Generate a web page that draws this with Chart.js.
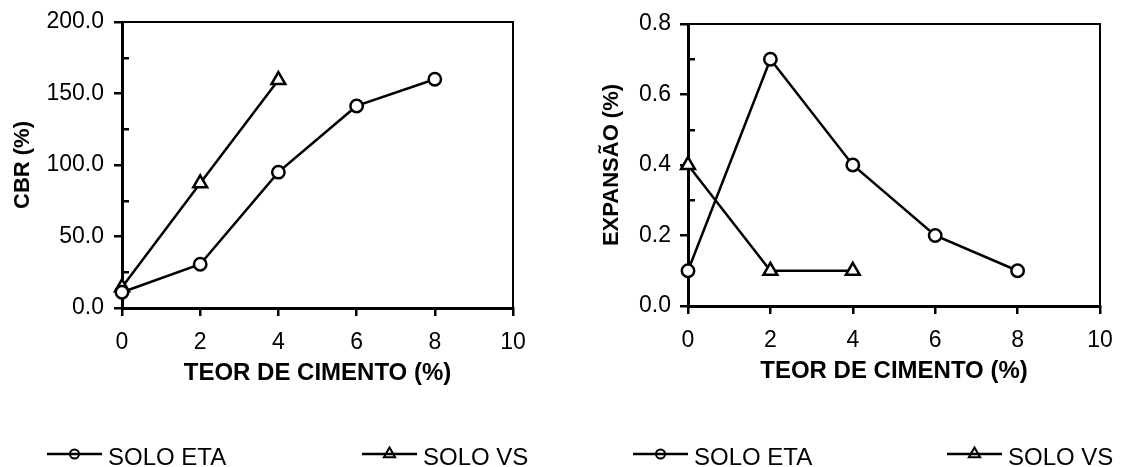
<!DOCTYPE html>
<html>
<head>
<meta charset="utf-8">
<script src="https://cdn.jsdelivr.net/npm/chart.js@4.4.0/dist/chart.umd.min.js"></script>
<style>
  html, body { margin: 0; padding: 0; background: #fff; }
  #wrap { position: relative; width: 1124px; height: 467px; }
  canvas { position: absolute; top: 0; }
</style>
</head>
<body>
<div id="wrap">
  <canvas id="cbrChart" width="562" height="467" style="left:0"></canvas>
  <canvas id="expChart" width="562" height="467" style="left:562px"></canvas>
</div>
<script>
// teor de cimento (%)
const teorETA = [0, 2, 4, 6, 8];
const teorVS = [0, 2, 4];

// CBR (%)
const cbrETA = [11, 30.6, 95, 141.3, 160];
const cbrVS = [14.5, 87.2, 159.4];

// expansao (%)
const expansaoETA = [0.1, 0.7, 0.4, 0.2, 0.1];
const expansaoVS = [0.4, 0.1, 0.1];

const seriesLabels = ['SOLO ETA', 'SOLO VS'];

const xTicks = [0, 2, 4, 6, 8, 10];
const cbrTicks = [0, 50, 100, 150, 200];
const cbrMinorTicks = [25, 75, 125, 175];
const expTicks = [0, 0.2, 0.4, 0.6, 0.8];
const expMinorTicks = [0.1, 0.3, 0.5, 0.7];

const FONT = "'Liberation Sans', Arial, sans-serif";

Chart.defaults.color = '#000';
Chart.defaults.font.family = FONT;

function toPoints(xs, ys) {
    return xs.map((x, i) => ({ x: x, y: ys[i] }));
}

function setTicks(values) {
    return scale => { scale.ticks = values.map(v => ({ value: v })); };
}

// legend drawn under each chart: line + marker + label
const lineLegend = {
    id: 'lineLegend',
    afterDraw(chart, args, opts) {
        const ctx = chart.ctx;
        ctx.save();
        chart.data.datasets.forEach((ds, i) => {
            const x = opts.starts[i];
            const y = opts.lineY;
            ctx.strokeStyle = '#000';
            ctx.lineWidth = 2.5;
            ctx.beginPath();
            ctx.moveTo(x, y);
            ctx.lineTo(x + 55, y);
            ctx.stroke();

            const cx = x + 27.5;
            ctx.lineWidth = 2;
            ctx.beginPath();
            if (ds.pointStyle === 'triangle') {
                const r = 6.5;
                ctx.moveTo(cx, y - r);
                ctx.lineTo(cx + r * 0.866, y + r * 0.5);
                ctx.lineTo(cx - r * 0.866, y + r * 0.5);
                ctx.closePath();
            } else {
                ctx.arc(cx, y, 4.5, 0, Math.PI * 2);
            }
            ctx.stroke();

            ctx.fillStyle = '#000';
            ctx.font = '24px ' + FONT;
            ctx.textBaseline = 'alphabetic';
            ctx.fillText(ds.label, x + 61, opts.textY);
        });
        ctx.restore();
    }
};

function buildChart(id, c) {
    const ctx = document.getElementById(id).getContext('2d');
    const commonSet = {
        borderColor: '#000',
        borderWidth: 2.5,
        pointBorderColor: '#000',
        pointBackgroundColor: '#fff',
        pointBorderWidth: 2.5,
        showLine: true,
        clip: false
    };

    return new Chart(ctx, {
        type: 'scatter',
        data: {
            datasets: [{
                ...commonSet,
                label: seriesLabels[0],
                data: toPoints(teorETA, c.eta),
                pointStyle: 'circle',
                pointRadius: 6.2
            }, {
                ...commonSet,
                label: seriesLabels[1],
                data: toPoints(teorVS, c.vs),
                pointStyle: 'triangle',
                pointRadius: 8
            }]
        },
        options: {
            responsive: false,
            animation: false,
            layout: {
                padding: { left: 0, top: c.top, right: 562 - c.right, bottom: 467 - c.bottom - 83 }
            },
            plugins: {
                legend: { display: false },
                tooltip: { enabled: false },
                lineLegend: { starts: c.legendStarts, lineY: 454, textY: 465 }
            },
            scales: {
                x: {
                    type: 'linear',
                    position: 'bottom',
                    min: 0,
                    max: 10,
                    afterBuildTicks: setTicks(xTicks),
                    afterFit: s => { s.height = 83; s.paddingLeft = 0; s.paddingRight = 0; },
                    grid: { drawOnChartArea: false, tickLength: 8, lineWidth: 2.5, color: '#000' },
                    border: { color: '#000', width: 3 },
                    ticks: { font: { size: 23 }, padding: 13, maxRotation: 0 },
                    title: {
                        display: true,
                        text: 'TEOR DE CIMENTO (%)',
                        font: { size: 24, weight: 'bold' },
                        padding: { top: 4, bottom: 3 }
                    }
                },
                xTop: {
                    type: 'linear',
                    position: 'top',
                    min: 0,
                    max: 10,
                    afterFit: s => { s.height = 0; s.paddingLeft = 0; s.paddingRight = 0; },
                    grid: { display: false },
                    border: { color: '#000', width: 2 },
                    ticks: { display: false }
                },
                y: {
                    type: 'linear',
                    position: 'left',
                    weight: 1,
                    min: 0,
                    max: c.yMax,
                    afterBuildTicks: setTicks(c.yTicks),
                    afterFit: s => { s.width = c.left; s.paddingTop = 0; s.paddingBottom = 0; },
                    grid: { drawOnChartArea: false, tickLength: 8, lineWidth: 2.5, color: '#000' },
                    border: { color: '#000', width: 3 },
                    ticks: {
                        font: { size: 23 },
                        padding: c.tickPad,
                        callback: v => v.toFixed(1)
                    },
                    title: {
                        display: true,
                        text: c.yTitle,
                        font: { size: 22, weight: 'bold' },
                        padding: { top: c.titlePad, bottom: 0 }
                    }
                },
                yMinor: {
                    type: 'linear',
                    position: 'left',
                    weight: 0,
                    min: 0,
                    max: c.yMax,
                    afterBuildTicks: setTicks(c.yMinor),
                    afterFit: s => { s.width = 0; s.paddingTop = 0; s.paddingBottom = 0; },
                    grid: { drawOnChartArea: false, tickLength: -7, lineWidth: 2.5, color: '#000' },
                    border: { display: false },
                    ticks: { display: false }
                },
                yRight: {
                    type: 'linear',
                    position: 'right',
                    min: 0,
                    max: c.yMax,
                    afterFit: s => { s.width = 0; s.paddingTop = 0; s.paddingBottom = 0; },
                    grid: { display: false },
                    border: { color: '#000', width: 2 },
                    ticks: { display: false }
                }
            }
        },
        plugins: [lineLegend]
    });
}

buildChart('cbrChart', {
    eta: cbrETA,
    vs: cbrVS,
    yMax: 200,
    yTicks: cbrTicks,
    yMinor: cbrMinorTicks,
    yTitle: 'CBR (%)',
    left: 122,
    right: 513,
    top: 22,
    bottom: 308,
    tickPad: 10,
    titlePad: 10,
    legendStarts: [47, 362]
});

buildChart('expChart', {
    eta: expansaoETA,
    vs: expansaoVS,
    yMax: 0.8,
    yTicks: expTicks,
    yMinor: expMinorTicks,
    yTitle: 'EXPANSÃO (%)',
    left: 126,
    right: 538,
    top: 24,
    bottom: 306,
    tickPad: 9,
    titlePad: 37,
    legendStarts: [71, 385]
});
</script>
</body>
</html>
